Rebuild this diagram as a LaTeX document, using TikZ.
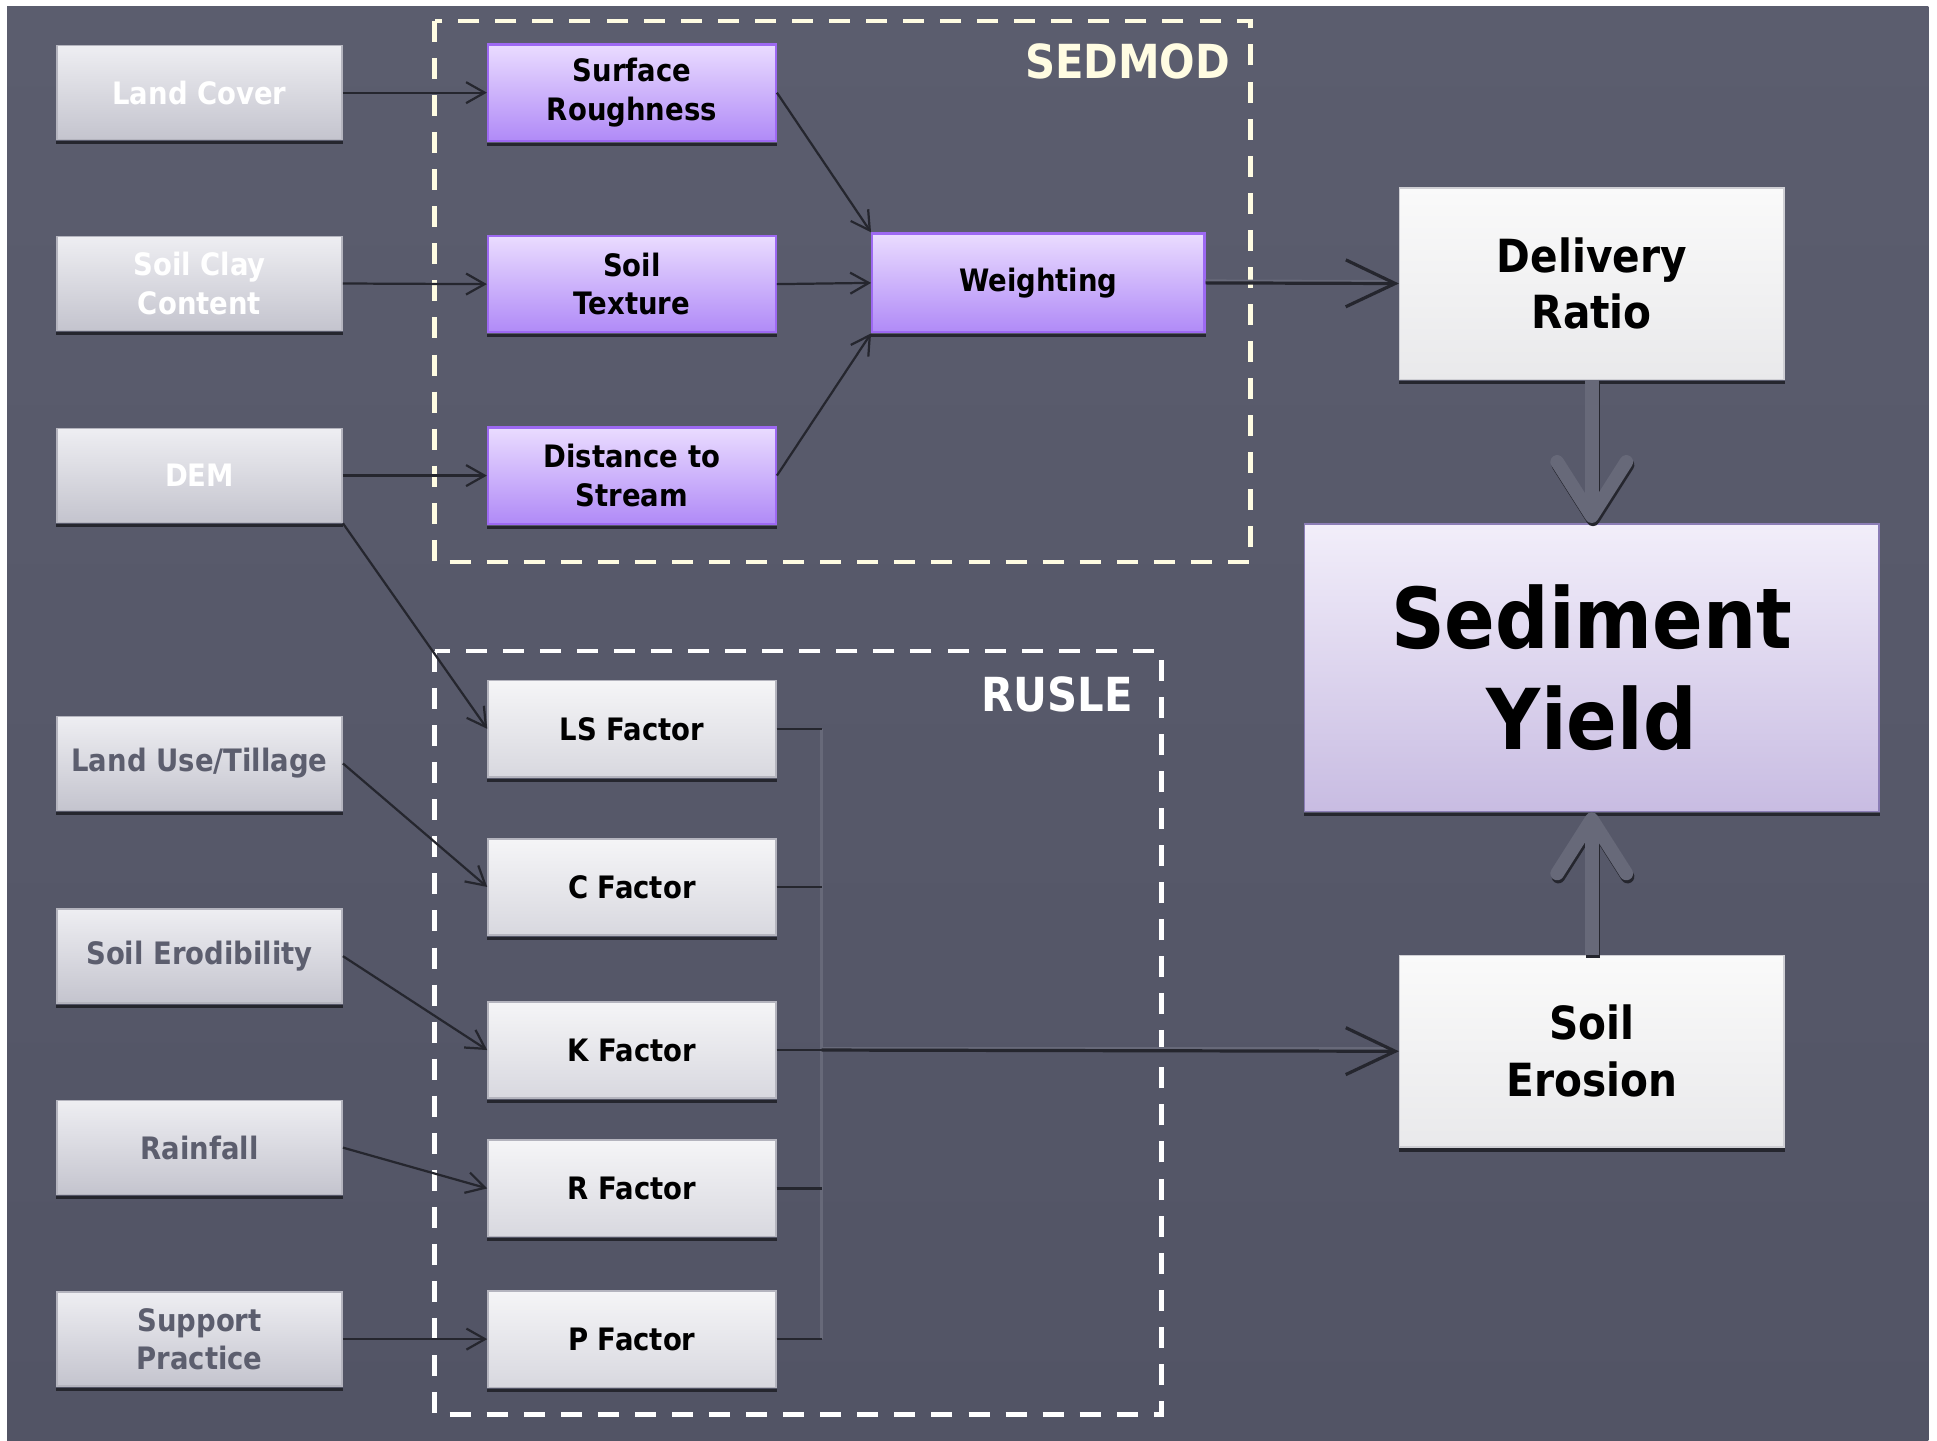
\documentclass[tikz,border=0pt]{standalone}
\usepackage{fontspec}
\setmainfont{DejaVu Sans}[FakeStretch=0.89]
\usetikzlibrary{arrows.meta,calc}

\definecolor{slatetop}{HTML}{5B5D6E}
\definecolor{slatebot}{HTML}{525465}
\definecolor{cream}{HTML}{FFFCE2}
\definecolor{greytext}{HTML}{5C5E6E}
\definecolor{shadowc}{HTML}{25262E}
\definecolor{connc}{HTML}{676979}
\definecolor{intop}{HTML}{EEEEF2}
\definecolor{inbot}{HTML}{C4C4CE}
\definecolor{inline}{HTML}{B4B4BE}
\definecolor{factop}{HTML}{F5F5F7}
\definecolor{facbot}{HTML}{D8D8DF}
\definecolor{purptop}{HTML}{EADCFF}
\definecolor{purpbot}{HTML}{B08AF7}
\definecolor{purpline}{HTML}{9D69F2}
\definecolor{whtop}{HTML}{FAFAFA}
\definecolor{whbot}{HTML}{E9E9EB}
\definecolor{whline}{HTML}{CFCFD4}
\definecolor{lavtop}{HTML}{F2EEFA}
\definecolor{lavbot}{HTML}{C8BCE2}
\definecolor{lavline}{HTML}{8B7DB6}

\tikzset{
  box/.style={rectangle, align=center, inner sep=0pt, line width=1.2pt,
    font=\fontsize{25}{31}\selectfont\bfseries},
  inbox/.style={box, minimum width=231pt, minimum height=76pt,
    top color=intop, bottom color=inbot, draw=inline},
  litin/.style={inbox, text=white},
  dimin/.style={inbox, text=greytext},
  procbox/.style={box, minimum width=233pt, minimum height=78pt,
    top color=purptop, bottom color=purpbot, draw=purpline, line width=1.8pt},
  facbox/.style={box, minimum width=233pt, minimum height=78pt,
    top color=factop, bottom color=facbot, draw=inline},
  outbox/.style={box, minimum width=311pt, minimum height=155pt,
    top color=whtop, bottom color=whbot, draw=whline,
    font=\fontsize{37}{46}\selectfont\bfseries},
  yieldbox/.style={box, minimum width=465pt, minimum height=233pt,
    top color=lavtop, bottom color=lavbot, draw=lavline,
    font=\fontsize{68}{81}\selectfont\bfseries},
  frame/.style={line width=3.8pt, dash pattern=on 17pt off 13pt},
  framelabel/.style={anchor=east, inner sep=0pt, font=\fontsize{38}{44}\selectfont\bfseries},
  conn/.style={draw=shadowc, line width=1.8pt,
    -{Straight Barb[length=15pt, width=17pt, line width=1.8pt]}},
  wire/.style={draw=shadowc, line width=1.8pt},
  busline/.style={draw=connc, line width=2.6pt},
  longconn/.style={draw=shadowc, line width=2.6pt,
    -{Straight Barb[length=40pt, width=38pt, line width=2.6pt]}},
  bigarrow/.style={line width=11pt,
    -{Straight Barb[length=44pt, width=56pt, line width=11pt, round]}},
}

\begin{document}
\begin{tikzpicture}[x=1pt, y=-1pt]
  % page and slate panel
  \fill[white] (0,0) rectangle (1568,1166);
  \useasboundingbox (0,0) rectangle (1568,1166);
  \shade[top color=slatetop, bottom color=slatebot] (5.7,4.9) rectangle (1561,1166);

  % module frames
  \draw[frame, cream] (352,17) rectangle (1012,455);
  \draw[frame, white] (352,527) rectangle (940,1145);
  \node[framelabel, text=cream] (sedlbl) at (996,50) {SEDMOD};
  \node[framelabel, text=white] (ruslbl) at (917,562) {RUSLE};

  % input layers
  \node[litin] (lc)  at (161.5,75)    {Land Cover};
  \node[litin] (scc) at (161.5,229.5) {Soil Clay\\Content};
  \node[litin] (dem) at (161.5,385)   {DEM};
  \node[dimin] (lu)  at (161.5,618)   {Land Use/Tillage};
  \node[dimin] (erd) at (161.5,774)   {Soil Erodibility};
  \node[dimin] (rf)  at (161.5,929)   {Rainfall};
  \node[dimin] (sp)  at (161.5,1084)  {Support\\Practice};

  % SEDMOD components
  \node[procbox] (sr) at (511.5,75)  {Surface\\Roughness};
  \node[procbox] (st) at (511.5,230) {Soil\\Texture};
  \node[procbox] (ds) at (511.5,385) {Distance to\\Stream};
  \node[procbox, minimum width=269pt, minimum height=80pt] (wt) at (840.5,229) {Weighting};

  % RUSLE factors
  \node[facbox] (ls) at (511.5,590)  {LS Factor};
  \node[facbox] (cf) at (511.5,718)  {C Factor};
  \node[facbox] (kf) at (511.5,850)  {K Factor};
  \node[facbox] (rfac) at (511.5,962) {R Factor};
  \node[facbox] (pf) at (511.5,1084) {P Factor};

  % outputs
  \node[outbox] (dr) at (1288.5,229.5) {Delivery\\Ratio};
  \node[yieldbox] (sy) at (1288.5,540.5) {Sediment\\Yield};
  \node[outbox] (se) at (1288.5,851) {Soil\\Erosion};

  % box shadows
  \foreach \n in {lc,scc,dem,lu,erd,rf,sp,sr,st,ds,wt,ls,cf,kf,rfac,pf,dr,sy,se}{
    \draw[shadowc, line width=2.6pt] ($(\n.south west)+(0,1.9)$) -- ($(\n.south east)+(0,1.9)$);
  }

  % inputs to SEDMOD
  \draw[conn] (lc.east) -- (sr.west);
  \draw[conn] (scc.east) -- (st.west);
  \draw[conn] (dem.east) -- (ds.west);
  \draw[conn] (sr.east) -- (wt.north west);
  \draw[conn] (st.east) -- (wt.west);
  \draw[conn] (ds.east) -- (wt.south west);

  % inputs to RUSLE
  \draw[conn] (dem.south east) -- (ls.west);
  \draw[conn] (lu.east) -- (cf.west);
  \draw[conn] (erd.east) -- (kf.west);
  \draw[conn] (rf.east) -- (rfac.west);
  \draw[conn] (sp.east) -- (pf.west);

  % factor bus
  \coordinate (bustop) at (665,590);
  \coordinate (busbot) at (665,1084);
  \draw[busline] (bustop) -- (busbot);
  \draw[wire] (ls.east) -- (bustop);
  \draw[wire] (cf.east) -- (cf.east -| bustop);
  \draw[wire] (kf.east) -- (kf.east -| bustop);
  \draw[wire] (rfac.east) -- (rfac.east -| bustop);
  \draw[wire] (pf.east) -- (busbot);
  \draw[busline] ($(kf.east -| bustop)+(0,-1.5)$) -- ($(se.west)+(-6,-2.5)$);
  \draw[longconn] (kf.east -| bustop) -- (se.west);

  % SEDMOD output
  \draw[busline] ($(wt.east)+(0,-1.5)$) -- ($(dr.west)+(-6,-1.5)$);
  \draw[longconn] (wt.east) -- (dr.west);

  % into sediment yield
  \draw[bigarrow, shadowc, transform canvas={shift={(1pt,-2.5pt)}}] (dr.south) -- (sy.north);
  \draw[bigarrow, connc] (dr.south) -- (sy.north);
  \draw[bigarrow, shadowc, transform canvas={shift={(1pt,-2.5pt)}}] (se.north) -- (sy.south);
  \draw[bigarrow, connc] (se.north) -- (sy.south);
\end{tikzpicture}
\end{document}
